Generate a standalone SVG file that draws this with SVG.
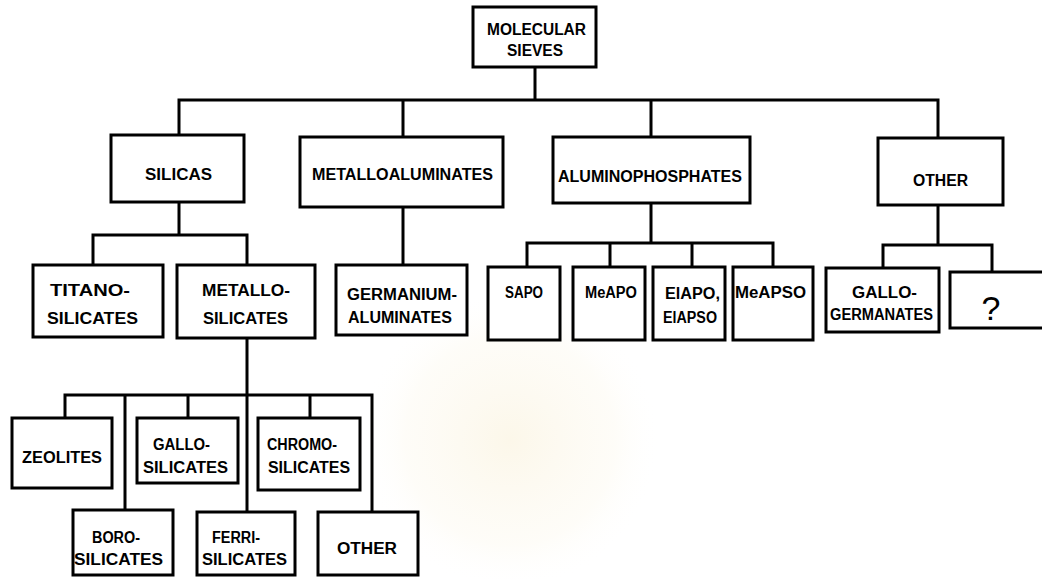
<svg xmlns="http://www.w3.org/2000/svg" width="1042" height="580" viewBox="0 0 1042 580">
<defs>
<radialGradient id="wm" cx="0.5" cy="0.5" r="0.5">
<stop offset="0" stop-color="#fbf5e4" stop-opacity="0.8"/>
<stop offset="0.7" stop-color="#fdfaf1" stop-opacity="0.5"/>
<stop offset="1" stop-color="#ffffff" stop-opacity="0"/>
</radialGradient>
</defs>
<style>
.box{fill:#fff;stroke:#000;stroke-width:3}
.open{fill:#fff;stroke:#000;stroke-width:3}
.c{fill:none;stroke:#000;stroke-width:3;stroke-linecap:square}
.t{font-family:"Liberation Sans",Arial,sans-serif;font-weight:bold;font-size:16px;fill:#000}
.q{font-family:"Liberation Sans",Arial,sans-serif;font-size:34px;fill:#000}
</style>
<rect x="0" y="0" width="1042" height="580" fill="#fff"/>
<ellipse cx="510" cy="440" rx="150" ry="150" fill="url(#wm)"/>

<g id="connectors">
<path class="c" d="M535 67V100M179 100H938M179 100V135M403 100V137M651 100V137M938 100V138"/>
<path class="c" d="M179 202V235M93 235H247M93 235V265M247 235V265"/>
<path class="c" d="M403 207V265"/>
<path class="c" d="M651 203V243M527 243H773M527 243V267M610 243V267M692 243V267M773 243V267"/>
<path class="c" d="M938 205V245M883 245H992M883 245V268M992 245V272"/>
<path class="c" d="M247 338V512M65 395H372M65 395V418M125 395V510M188 395V418M310 395V418M372 395V512"/>
</g>

<g id="molecular-sieves">
<rect class="box" x="473" y="7" width="123" height="60"/>
<text class="t" x="487" y="35" textLength="99" lengthAdjust="spacingAndGlyphs">MOLECULAR</text>
<text class="t" x="507" y="56" textLength="56" lengthAdjust="spacingAndGlyphs">SIEVES</text>
</g>

<g id="silicas">
<rect class="box" x="111" y="135" width="133" height="67"/>
<text class="t" x="145" y="180" textLength="67" lengthAdjust="spacingAndGlyphs">SILICAS</text>
</g>

<g id="metalloaluminates">
<rect class="box" x="300" y="137" width="203" height="70"/>
<text class="t" x="312" y="180" textLength="181" lengthAdjust="spacingAndGlyphs">METALLOALUMINATES</text>
</g>

<g id="aluminophosphates">
<rect class="box" x="553" y="137" width="197" height="66"/>
<text class="t" x="558" y="182" textLength="184" lengthAdjust="spacingAndGlyphs">ALUMINOPHOSPHATES</text>
</g>

<g id="other-top">
<rect class="box" x="878" y="138" width="125" height="67"/>
<text class="t" x="913" y="186" textLength="55" lengthAdjust="spacingAndGlyphs">OTHER</text>
</g>

<g id="titano-silicates">
<rect class="box" x="33" y="265" width="130" height="72"/>
<text class="t" x="50" y="296" textLength="80" lengthAdjust="spacingAndGlyphs">TITANO-</text>
<text class="t" x="47" y="324" textLength="91" lengthAdjust="spacingAndGlyphs">SILICATES</text>
</g>

<g id="metallo-silicates">
<rect class="box" x="177" y="265" width="138" height="73"/>
<text class="t" x="202" y="296" textLength="88" lengthAdjust="spacingAndGlyphs">METALLO-</text>
<text class="t" x="203" y="324" textLength="85" lengthAdjust="spacingAndGlyphs">SILICATES</text>
</g>

<g id="germanium-aluminates">
<rect class="box" x="336" y="265" width="131" height="70"/>
<text class="t" x="347" y="300" textLength="110" lengthAdjust="spacingAndGlyphs">GERMANIUM-</text>
<text class="t" x="348" y="323" textLength="104" lengthAdjust="spacingAndGlyphs">ALUMINATES</text>
</g>

<g id="sapo">
<rect class="box" x="488" y="267" width="72" height="73"/>
<text class="t" x="505" y="298" textLength="38" lengthAdjust="spacingAndGlyphs">SAPO</text>
</g>

<g id="meapo">
<rect class="box" x="573" y="267" width="72" height="73"/>
<text class="t" x="585" y="298" textLength="52" lengthAdjust="spacingAndGlyphs">MeAPO</text>
</g>

<g id="elapo">
<rect class="box" x="653" y="267" width="72" height="73"/>
<text class="t" x="665" y="299" textLength="55" lengthAdjust="spacingAndGlyphs">ElAPO,</text>
<text class="t" x="663" y="323" textLength="54" lengthAdjust="spacingAndGlyphs">ElAPSO</text>
</g>

<g id="meapso">
<rect class="box" x="733" y="267" width="80" height="73"/>
<text class="t" x="735" y="298" textLength="71" lengthAdjust="spacingAndGlyphs">MeAPSO</text>
</g>

<g id="gallo-germanates">
<rect class="box" x="826" y="268" width="113" height="64"/>
<text class="t" x="852" y="298" textLength="65" lengthAdjust="spacingAndGlyphs">GALLO-</text>
<text class="t" x="830" y="320" textLength="103" lengthAdjust="spacingAndGlyphs">GERMANATES</text>
</g>

<g id="unknown">
<rect class="open" x="950" y="272" width="100" height="56"/>
<text class="q" x="991" y="320" text-anchor="middle">?</text>
</g>

<g id="zeolites">
<rect class="box" x="12" y="418" width="100" height="70"/>
<text class="t" x="22" y="463" textLength="80" lengthAdjust="spacingAndGlyphs">ZEOLITES</text>
</g>

<g id="gallo-silicates">
<rect class="box" x="137" y="418" width="101" height="65"/>
<text class="t" x="153" y="450" textLength="57" lengthAdjust="spacingAndGlyphs">GALLO-</text>
<text class="t" x="143" y="473" textLength="85" lengthAdjust="spacingAndGlyphs">SILICATES</text>
</g>

<g id="chromo-silicates">
<rect class="box" x="258" y="418" width="102" height="72"/>
<text class="t" x="267" y="450" textLength="70" lengthAdjust="spacingAndGlyphs">CHROMO-</text>
<text class="t" x="268" y="473" textLength="82" lengthAdjust="spacingAndGlyphs">SILICATES</text>
</g>

<g id="boro-silicates">
<rect class="box" x="73" y="510" width="100" height="65"/>
<text class="t" x="92" y="543" textLength="48" lengthAdjust="spacingAndGlyphs">BORO-</text>
<text class="t" x="74" y="565" textLength="89" lengthAdjust="spacingAndGlyphs">SILICATES</text>
</g>

<g id="ferri-silicates">
<rect class="box" x="197" y="512" width="98" height="63"/>
<text class="t" x="212" y="543" textLength="48" lengthAdjust="spacingAndGlyphs">FERRI-</text>
<text class="t" x="202" y="565" textLength="85" lengthAdjust="spacingAndGlyphs">SILICATES</text>
</g>

<g id="other-bottom">
<rect class="box" x="318" y="512" width="100" height="63"/>
<text class="t" x="337" y="554" textLength="60" lengthAdjust="spacingAndGlyphs">OTHER</text>
</g>
</svg>
